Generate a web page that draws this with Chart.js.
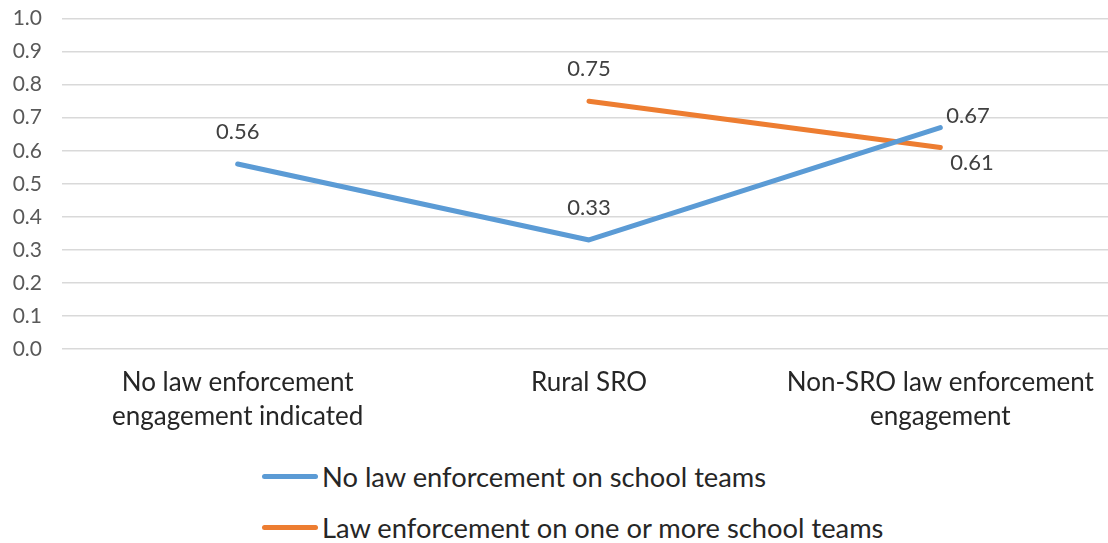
<!DOCTYPE html>
<html>
<head>
<meta charset="utf-8">
<script src="https://cdn.jsdelivr.net/npm/chart.js@4/dist/chart.umd.min.js"></script>
<style>
  html, body { margin: 0; padding: 0; background: #fff; overflow: hidden; }
  body { width: 1108px; height: 543px; position: relative; font-family: Lato, "Open Sans", sans-serif; }
  #wrap { position: absolute; left: 0; top: -14px; width: 1116px; height: 454px; }
  #legend { position: absolute; left: 262px; top: 451px; color: #262626; font-size: 27.3px; }
  .item { display: flex; align-items: center; height: 51px; }
  .swatch { width: 56px; height: 5px; border-radius: 3px; margin-right: 4px; }
</style>
</head>
<body>
<div id="wrap"><canvas id="c"></canvas></div>
<div id="legend"></div>
<script>
const categories = [
  ["No law enforcement", "engagement indicated"],
  ["Rural SRO"],
  ["Non-SRO law enforcement", "engagement"]
];
const seriesNames = [
  "No law enforcement on school teams",
  "Law enforcement on one or more school teams"
];
const noLawValues = [0.56, 0.33, 0.67];
const lawValues = [null, 0.75, 0.61];
const yTicks = [0, 0.1, 0.2, 0.3, 0.4, 0.5, 0.6, 0.7, 0.8, 0.9, 1.0];

const colors = ["#5B9BD5", "#ED7D31"];
const labelPos = [["above", "above", "right-up"], [null, "above", "right-down"]];

const dataLabels = {
  id: "dataLabels",
  afterDatasetsDraw(chart) {
    const ctx = chart.ctx;
    ctx.save();
    ctx.font = "22px Lato, sans-serif";
    ctx.fillStyle = "#404040";
    ctx.textBaseline = "middle";
    chart.data.datasets.forEach((ds, di) => {
      const meta = chart.getDatasetMeta(di);
      meta.data.forEach((pt, i) => {
        const v = ds.data[i];
        if (v === null || v === undefined) return;
        const txt = v.toFixed(2);
        const pos = labelPos[di][i];
        let x = pt.x, y = pt.y;
        if (pos === "above") { ctx.textAlign = "center"; y -= 32; }
        else if (pos === "right-up") { ctx.textAlign = "left"; x += 6; y -= 12; }
        else if (pos === "right-down") { ctx.textAlign = "left"; x += 10; y += 15; }
        ctx.fillText(txt, x, y);
      });
    });
    ctx.restore();
  }
};

const chart = new Chart(document.getElementById("c"), {
  type: "line",
  data: {
    labels: categories,
    datasets: [
      { label: seriesNames[0], data: noLawValues, borderColor: colors[0], backgroundColor: colors[0],
        borderWidth: 5, pointRadius: 0, borderCapStyle: "round", borderJoinStyle: "round", spanGaps: false },
      { label: seriesNames[1], data: lawValues, borderColor: colors[1], backgroundColor: colors[1],
        borderWidth: 5, pointRadius: 0, borderCapStyle: "round", borderJoinStyle: "round", spanGaps: false }
    ]
  },
  options: {
    responsive: true,
    maintainAspectRatio: false,
    animation: false,
    layout: { padding: { top: 0, right: 0, left: 0, bottom: 0 } },
    plugins: { legend: { display: false }, tooltip: { enabled: false } },
    scales: {
      y: {
        min: 0, max: 1,
        afterBuildTicks(scale) { scale.ticks = yTicks.map(v => ({ value: v })); },
        afterFit(scale) { scale.width = 62; },
        ticks: { padding: 20, color: "#595959", font: { family: "Lato", size: 21 },
          callback: v => Number(v).toFixed(1) },
        grid: { color: "#d9d9d9", lineWidth: 1.5, drawTicks: false },
        border: { display: false }
      },
      x: {
        offset: true,
        afterFit(scale) { scale.height = 91; },
        grid: { display: false, drawTicks: false },
        border: { display: false },
        ticks: { padding: 17, color: "#262626", maxRotation: 0, autoSkip: false,
          font: { family: "Lato", size: 26, lineHeight: 1.31 } }
      }
    }
  },
  plugins: [dataLabels]
});

const legend = document.getElementById("legend");
seriesNames.forEach((n, i) => {
  const d = document.createElement("div");
  d.className = "item";
  d.innerHTML = '<span class="swatch" style="background:' + colors[i] + '"></span><span>' + n + '</span>';
  legend.appendChild(d);
});
</script>
</body>
</html>
